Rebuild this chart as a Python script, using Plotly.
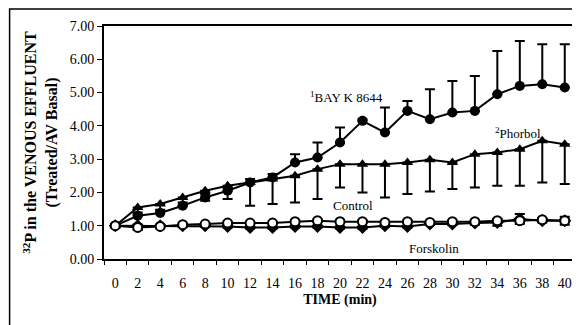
import plotly.graph_objects as go

time_min = list(range(0, 42, 2))
x_tick_labels = [str(t) for t in time_min]
y_tick_vals = [0, 1, 2, 3, 4, 5, 6, 7]

bay_k = [1.0, 1.3, 1.38, 1.6, 1.85, 2.05, 2.3, 2.45, 2.9, 3.05, 3.5, 4.15, 3.8, 4.45, 4.2, 4.4, 4.45, 4.95, 5.2, 5.25, 5.15]
bay_k_err = [0.05, 0.1, 0.1, 0.1, 0.1, 0.1, 0.1, 0.1, 0.25, 0.45, 0.45, 0.05, 0.75, 0.3, 0.9, 0.95, 1.05, 1.3, 1.35, 1.2, 1.3]

phorbol = [1.0, 1.55, 1.65, 1.85, 2.05, 2.2, 2.3, 2.4, 2.5, 2.7, 2.85, 2.85, 2.85, 2.9, 2.98, 2.9, 3.15, 3.2, 3.3, 3.55, 3.45]
phorbol_err = [0.05, 0.2, 0.2, 0.25, 0.3, 0.4, 0.7, 0.75, 0.8, 0.9, 0.7, 0.85, 1.0, 0.95, 0.95, 0.8, 1.0, 1.0, 1.1, 1.25, 1.2]

control = [1.0, 0.95, 0.98, 1.03, 1.05, 1.08, 1.08, 1.08, 1.12, 1.15, 1.12, 1.12, 1.1, 1.12, 1.1, 1.12, 1.12, 1.15, 1.15, 1.18, 1.15]
control_err = [0.03, 0.08, 0.04, 0.03, 0.03, 0.04, 0.03, 0.03, 0.04, 0.04, 0.03, 0.03, 0.03, 0.03, 0.03, 0.03, 0.03, 0.04, 0.04, 0.04, 0.04]

forskolin = [1.0, 1.0, 1.0, 1.0, 1.0, 0.98, 0.95, 0.95, 0.98, 0.98, 0.95, 0.95, 1.0, 0.98, 1.05, 1.05, 1.08, 1.1, 1.2, 1.15, 1.15]
forskolin_err = [0.03, 0.03, 0.03, 0.03, 0.03, 0.03, 0.03, 0.03, 0.03, 0.03, 0.03, 0.03, 0.03, 0.03, 0.03, 0.03, 0.05, 0.1, 0.15, 0.05, 0.12]

zeros = [0] * len(time_min)
FONT = "Liberation Serif"

fig = go.Figure()

fig.add_trace(go.Scatter(
    x=time_min, y=phorbol, mode="lines+markers", name="Phorbol",
    line=dict(color="black", width=2),
    marker=dict(symbol="triangle-up", size=10, color="black"),
    error_y=dict(type="data", symmetric=False, array=zeros, arrayminus=phorbol_err,
                 color="black", thickness=2, width=5),
))
fig.add_trace(go.Scatter(
    x=time_min, y=bay_k, mode="lines+markers", name="BAY K 8644",
    line=dict(color="black", width=2),
    marker=dict(symbol="circle", size=10, color="black"),
    error_y=dict(type="data", symmetric=False, array=bay_k_err, arrayminus=zeros,
                 color="black", thickness=2, width=5),
))
fig.add_trace(go.Scatter(
    x=time_min, y=forskolin, mode="lines+markers", name="Forskolin",
    line=dict(color="black", width=2),
    marker=dict(symbol="diamond", size=10, color="black"),
    error_y=dict(type="data", array=forskolin_err, color="black", thickness=2, width=5),
))
fig.add_trace(go.Scatter(
    x=time_min, y=control, mode="lines+markers", name="Control",
    line=dict(color="black", width=2),
    marker=dict(symbol="circle", size=9, color="white", line=dict(color="black", width=2)),
    error_y=dict(type="data", array=control_err, color="black", thickness=2, width=5),
))

ann_font = dict(family=FONT, size=13, color="black")
fig.add_annotation(x=20.6, y=4.87, text="<sup>1</sup>BAY K 8644", showarrow=False, font=ann_font, xanchor="center")
fig.add_annotation(x=35.8, y=3.78, text="<sup>2</sup>Phorbol", showarrow=False, font=ann_font, xanchor="center")
fig.add_annotation(x=21.2, y=1.62, text="Control", showarrow=False, font=ann_font, xanchor="center")
fig.add_annotation(x=28.4, y=0.33, text="Forskolin", showarrow=False, font=ann_font, xanchor="center")

# outer frame
fig.add_shape(type="rect", xref="paper", yref="paper",
              x0=-0.2, x1=1.1, y0=-0.5, y1=1.073,
              line=dict(color="black", width=1.5), layer="below")

fig.update_layout(
    width=572, height=317,
    margin=dict(l=96, r=2, t=18, b=66),
    paper_bgcolor="white", plot_bgcolor="white",
    showlegend=False,
    font=dict(family=FONT, color="black", size=13),
    xaxis=dict(
        range=[-1, 41], tickmode="array", tickvals=time_min, ticktext=x_tick_labels,
        ticks="outside", ticklen=0, tickcolor="black",
        ticklabelstandoff=10,
        minor=dict(tickmode="array", tickvals=list(range(-1, 42, 2)), ticks="outside",
                   ticklen=4, tickcolor="black", tickwidth=1),
        showline=True, linecolor="black", linewidth=2, mirror=True,
        showgrid=False, zeroline=False,
        tickfont=dict(family=FONT, size=14),
        title=dict(text="<b>TIME (min)</b>", font=dict(family=FONT, size=14), standoff=4),
    ),
    yaxis=dict(
        range=[0, 7], tickmode="array", tickvals=y_tick_vals, tickformat=".2f",
        ticks="outside", ticklen=5, tickcolor="black", tickwidth=1,
        showline=True, linecolor="black", linewidth=2, mirror=True,
        showgrid=False, zeroline=False,
        tickfont=dict(family=FONT, size=14),
        title=dict(text="<b><sup>32</sup>P in the VENOUS EFFLUENT<br>(Treated/AV Basal)</b>",
                   font=dict(family=FONT, size=16), standoff=8),
    ),
)

fig.write_html("out.html")
